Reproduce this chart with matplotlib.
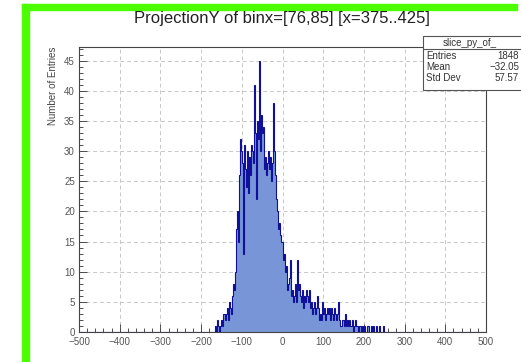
import numpy as np
import matplotlib
matplotlib.use("Agg")
import matplotlib.pyplot as plt
from matplotlib.patches import Rectangle
from matplotlib.ticker import MultipleLocator

plt.rcParams['font.family'] = ['Liberation Sans', 'DejaVu Sans']

# ---- data ----
title = "ProjectionY of binx=[76,85] [x=375..425]"
ylabel = "Number of Entries"
x_min, x_max, n_bins = -500.0, 500.0, 400
first_bin_low = -165.0           # low edge of first non-empty bin
counts = [
    1, 0, 2, 1, 0, 1, 2, 1, 3, 2,
    3, 4, 2, 5, 4, 3, 6, 8, 7, 10,
    17, 20, 15, 26, 32, 30, 28, 13, 31, 27,
    24, 30, 23, 29, 26, 31, 30, 28, 41, 33,
    22, 35, 32, 45, 30, 36, 33, 34, 27, 29,
    26, 28, 30, 27, 29, 25, 28, 38, 30, 26,
    22, 20, 17, 18, 16, 15, 12, 13, 10, 11,
    7, 8, 9, 12, 6, 7, 5, 6, 8, 5,
    12, 7, 8, 6, 5, 7, 4, 6, 5, 7,
    6, 5, 7, 4, 5, 3, 4, 5, 3, 4,
    6, 4, 2, 3, 2, 5, 3, 4, 2, 3,
    4, 3, 4, 2, 4, 3, 2, 4, 3, 2,
    3, 5, 2, 1, 2, 2, 1, 3, 1, 2,
    1, 2, 1, 1, 2, 0, 1, 2, 1, 1,
    0, 1, 1, 0, 1, 0, 1, 0, 0, 1,
    1, 0, 0, 1, 0, 1, 0, 0, 1, 0,
    0, 1, 0, 0, 0, 1,
]
stats_name = "slice_py_of_"
stats_rows = [("Entries", "1848"), ("Mean", "\u221232.05"), ("Std Dev", "57.57")]
x_ticks = [-500, -400, -300, -200, -100, 0, 100, 200, 300, 400, 500]
y_ticks = [0, 5, 10, 15, 20, 25, 30, 35, 40, 45]

# ---- build histogram ----
edges = np.linspace(x_min, x_max, n_bins + 1)
width = (x_max - x_min) / n_bins
h = np.zeros(n_bins)
start = int(round((first_bin_low - x_min) / width))
h[start:start + len(counts)] = counts

W, H = 521, 362
fig = plt.figure(figsize=(W / 100, H / 100), dpi=100)
fig.patch.set_facecolor('white')

# green frame (top and left)
green = '#4cff00'
fig.patches.append(Rectangle((22 / W, 1 - 10 / H), (517 - 22) / W, 6 / H,
                             transform=fig.transFigure, color=green, zorder=0))
fig.patches.append(Rectangle((22 / W, 0), 7 / W, 1 - 4 / H,
                             transform=fig.transFigure, color=green, zorder=0))

ax = fig.add_axes([79 / W, 1 - 332 / H, (486 - 79) / W, (332 - 47) / H])
ax.stairs(h, edges, fill=True, color='#7896d7', zorder=2)
ax.stairs(h, edges, color='#10109a', lw=0.8, zorder=3)

ax.set_xlim(x_min, x_max)
ax.set_ylim(0, max(counts) * 1.05)
ax.set_xticks(x_ticks)
ax.set_yticks(y_ticks)
ax.set_xticklabels([str(t).replace('-', '\u2212') if t < 0 else str(t) for t in x_ticks])
ax.xaxis.set_minor_locator(MultipleLocator(20))
ax.yaxis.set_minor_locator(MultipleLocator(1))
ax.tick_params(which='both', direction='in', top=False, right=False,
               labelsize=7, colors='#333333', width=0.6)
ax.tick_params(which='major', length=6)
ax.tick_params(which='minor', length=3)
ax.tick_params(axis='x', labelcolor='#555555', pad=3.5)
ax.tick_params(axis='y', labelcolor='#555555', pad=3)
ax.grid(True, which='major', ls=(0, (4, 3)), color='#c8c8c8', lw=0.7, zorder=1)
for s in ax.spines.values():
    s.set_color('#444444')
    s.set_linewidth(0.8)
ax.set_axisbelow(True)

ax.set_ylabel(ylabel, fontsize=7, color='#444444', ha='right', va='center')
ax.yaxis.set_label_coords(-0.064, 1.0)

fig.text(282 / W, 1 - 18 / H, title, ha='center', va='center', fontsize=12, color='#222222')

# stats box
bx0, by0, bx1, by1 = 423, 36, 530, 90
fig.patches.append(Rectangle((bx0 / W, 1 - by1 / H), (bx1 - bx0) / W, (by1 - by0) / H,
                             transform=fig.transFigure, facecolor='white',
                             edgecolor='#555555', lw=0.8, zorder=5))
fig.lines.append(plt.Line2D([bx0 / W, 1], [1 - 49 / H, 1 - 49 / H],
                            transform=fig.transFigure, color='#555555', lw=0.8, zorder=6))
fig.text(470 / W, 1 - 42.5 / H, stats_name, ha='center', va='center', fontsize=7,
         color='#333333', zorder=7)
row_y = [56, 67, 78]
for (k, v), yy in zip(stats_rows, row_y):
    fig.text(426 / W, 1 - yy / H, k, ha='left', va='center', fontsize=7, color='#333333', zorder=7)
    fig.text(519 / W, 1 - yy / H, v, ha='right', va='center', fontsize=7, color='#333333', zorder=7)

fig.savefig('out.png', dpi=100)
